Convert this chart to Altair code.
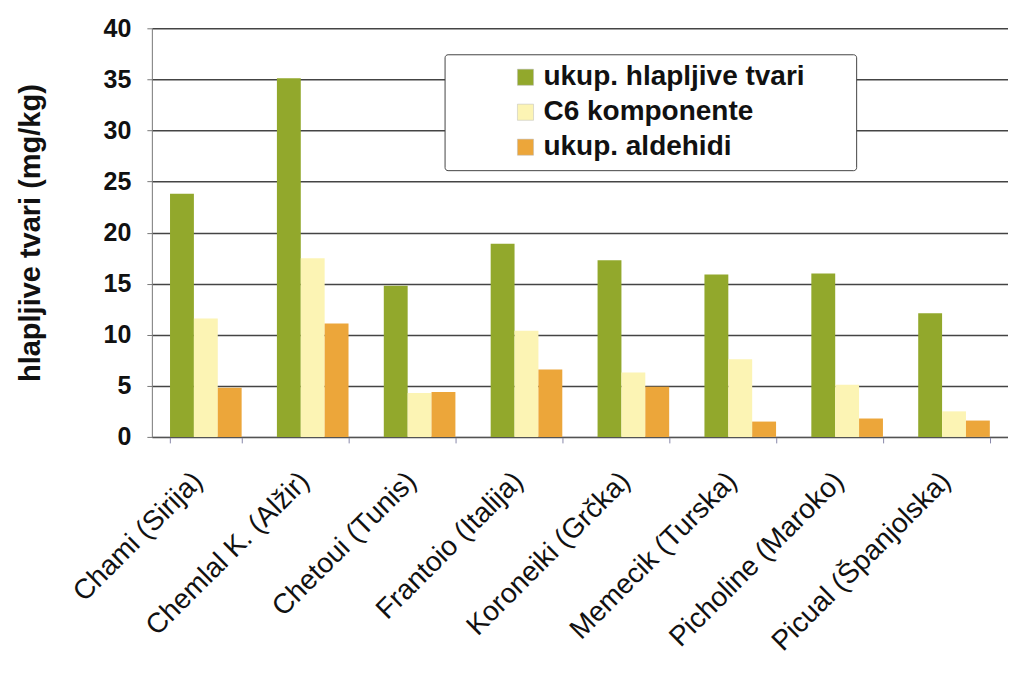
import altair as alt
import pandas as pd

categories = ["Chami (Sirija)", "Chemlal K. (Alžir)", "Chetoui (Tunis)", "Frantoio (Italija)",
              "Koroneiki (Grčka)", "Memecik (Turska)", "Picholine (Maroko)", "Picual (Španjolska)"]
series = ["ukup. hlapljive tvari", "C6 komponente", "ukup. aldehidi"]
total_volatiles = [23.8, 35.1, 14.8, 18.9, 17.3, 15.9, 16.0, 12.1]
c6_components = [11.6, 17.5, 4.3, 10.4, 6.3, 7.6, 5.1, 2.5]
total_aldehydes = [4.8, 11.1, 4.4, 6.6, 4.9, 1.5, 1.8, 1.6]
colors = ["#92a82c", "#fcf4b4", "#eca63a"]

rows = []
for i, c in enumerate(categories):
    for s, vals in zip(series, [total_volatiles, c6_components, total_aldehydes]):
        rows.append({"sorta": c, "serija": s, "vrijednost": vals[i]})
df = pd.DataFrame(rows)

chart = alt.Chart(df).mark_bar().encode(
    x=alt.X("sorta:N", sort=categories, title=None,
            scale=alt.Scale(paddingInner=0.33, paddingOuter=0.17),
            axis=alt.Axis(labelAngle=-45, labelAlign="right", labelBaseline="middle",
                          labelFontSize=28, labelFont="Liberation Sans", labelColor="#111",
                          tickBand="extent", tickColor="#8888aa", tickSize=6,
                          domainColor="#555", labelPadding=34, labelOffset=-8, labelLimit=400)),
    xOffset=alt.XOffset("serija:N", sort=series),
    y=alt.Y("vrijednost:Q", title="hlapljive tvari (mg/kg)",
            scale=alt.Scale(domain=[0, 40]),
            axis=alt.Axis(values=list(range(0, 41, 5)), labelFontSize=25, labelFontWeight="bold",
                          labelFont="Liberation Sans", labelColor="#111", labelPadding=16,
                          titleFontSize=29, titleFontWeight="bold", titleFont="Liberation Sans",
                          titleColor="#111", titlePadding=58,
                          gridColor="#444", gridWidth=1.5, domainColor="#777",
                          tickColor="#777", tickSize=5)),
    color=alt.Color("serija:N", sort=series,
                    scale=alt.Scale(domain=series, range=colors),
                    legend=alt.Legend(title=None, orient="none", legendX=293, legendY=26,
                                      symbolType="square", symbolSize=260, symbolStrokeWidth=0.5,
                                      symbolStrokeColor="#bbb",
                                      labelFontSize=28, labelFontWeight="bold",
                                      labelFont="Liberation Sans", labelColor="#111",
                                      labelExpr="datum.label + '\u2800\u2800'",
                                      rowPadding=7, padding=9, symbolOffset=58,
                                      strokeColor="#444", fillColor="white", labelLimit=500)),
).properties(width=857, height=409, padding={"left": 8, "top": 8, "right": 0, "bottom": 0}
).configure_view(stroke=None).configure_legend(cornerRadius=3)

chart.save("out.html", embed_options={"renderer": "svg", "actions": False})
